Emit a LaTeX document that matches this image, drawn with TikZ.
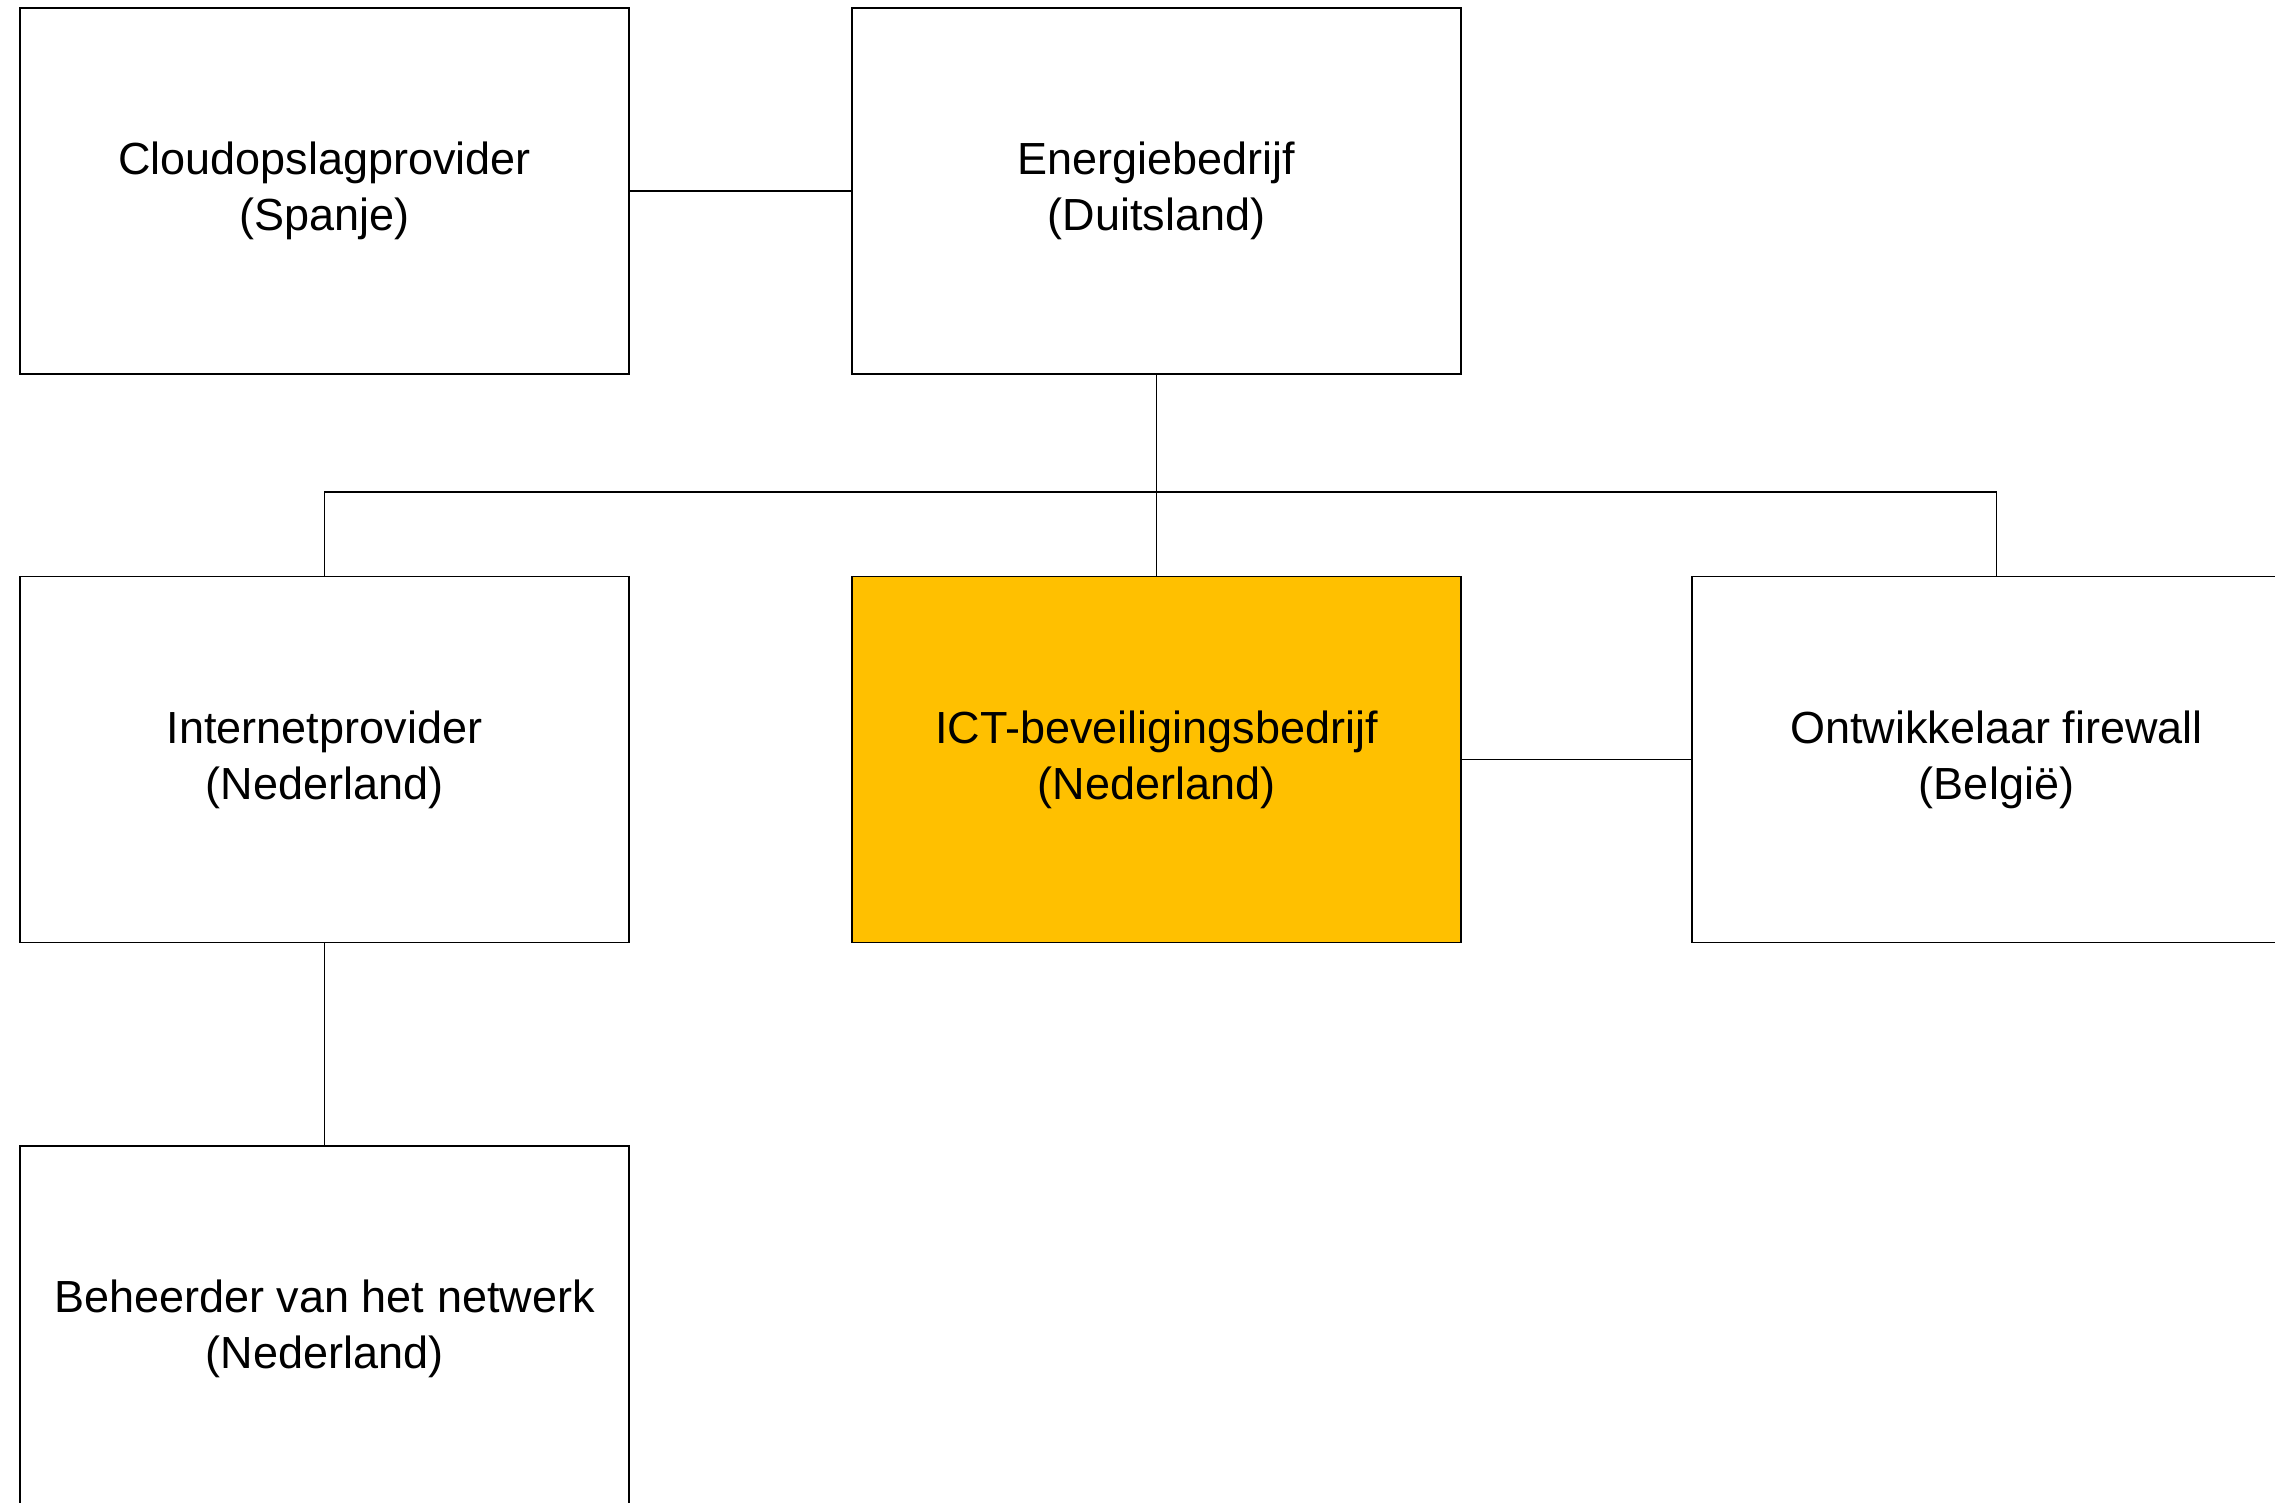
\documentclass[tikz,border=0pt]{standalone}
\usepackage{fontspec}
\setmainfont{Liberation Sans}
\usepackage{xcolor}
\definecolor{ictorange}{HTML}{FFC000}

\tikzset{
	partij/.style={draw=black, line width=1.2pt, rectangle, minimum width=609pt, minimum height=366pt, align=center, inner sep=0pt, font=\fontsize{45}{56}\selectfont},
	lijn/.style={draw=black, line width=1.2pt}
}

\begin{document}
\begin{tikzpicture}[x=1pt,y=-1pt]
	\useasboundingbox (0,0) rectangle (2275,1503);

	\node[partij] (cloud) at (324.5,191) {Cloudopslagprovider\\(Spanje)};
	\node[partij] (energie) at (1156.5,191) {Energiebedrijf\\(Duitsland)};

	\node[partij] (internet) at (324.5,759.5) {Internetprovider\\(Nederland)};
	\node[partij, fill=ictorange] (ict) at (1156.5,759.5) {ICT-beveiligingsbedrijf\\(Nederland)};
	\node[partij] (ontw) at (1996.5,759.5) {Ontwikkelaar firewall\\(Belgi\"e)};

	\node[partij] (beheer) at (324.5,1329) {Beheerder van het netwerk\\(Nederland)};

	\coordinate (bus) at (1156.5,492);

	\draw[lijn] (cloud.east) -- (energie.west);
	\draw[lijn] (energie.south) -- (ict.north);
	\draw[lijn] (internet.north) |- (bus) -| (ontw.north);
	\draw[lijn] (ict.east) -- (ontw.west);
	\draw[lijn] (internet.south) -- (beheer.north);

\end{tikzpicture}
\end{document}
